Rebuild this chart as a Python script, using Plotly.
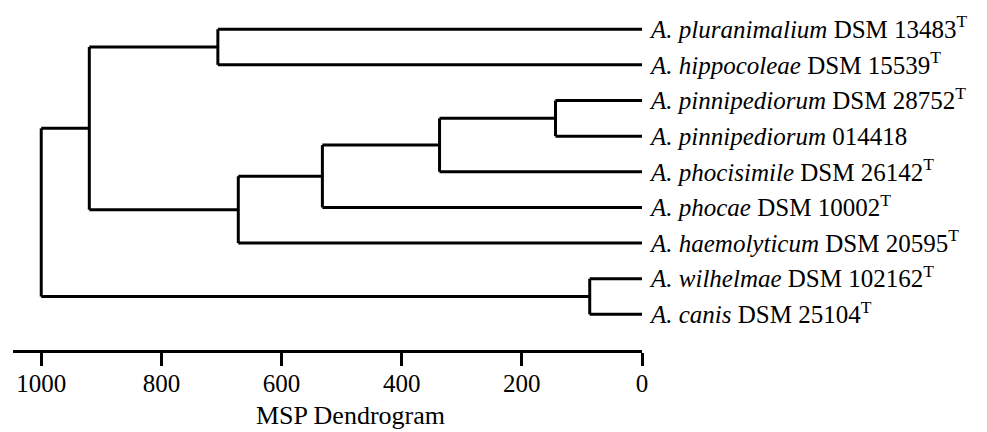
import plotly.graph_objects as go

# ---- data ----
leaf_species = ["A. pluranimalium", "A. hippocoleae", "A. pinnipediorum", "A. pinnipediorum",
                "A. phocisimile", "A. phocae", "A. haemolyticum", "A. wilhelmae", "A. canis"]
leaf_strains = ["DSM 13483", "DSM 15539", "DSM 28752", "014418",
                "DSM 26142", "DSM 10002", "DSM 20595", "DSM 102162", "DSM 25104"]
leaf_type_strain = [True, True, True, False, True, True, True, True, True]

# merges: (child_a, child_b, distance); children "L#" = leaf, "M#" = earlier merge
merge_a = ["L2", "M0", "M1", "M2", "L0", "M4", "L7", "M5"]
merge_b = ["L3", "L4", "L5", "L6", "L1", "M3", "L8", "M6"]
merge_dist = [144, 337, 532, 672, 706, 920, 87, 1000]

axis_ticks = [1000, 800, 600, 400, 200, 0]
axis_title = "MSP Dendrogram"

# ---- build segments ----
pos = {}
for i in range(len(leaf_species)):
    pos["L%d" % i] = (0, i)

xs, ys = [], []
for k, (a, b, d) in enumerate(zip(merge_a, merge_b, merge_dist)):
    xa, ya = pos[a]
    xb, yb = pos[b]
    xs += [xa, d, None, xb, d, None, d, d, None]
    ys += [ya, ya, None, yb, yb, None, ya, yb, None]
    pos["M%d" % k] = (d, (ya + yb) / 2)

labels = []
for sp, st, t in zip(leaf_species, leaf_strains, leaf_type_strain):
    labels.append("<i>%s</i> %s%s" % (sp, st, "<sup>T</sup>" if t else ""))

fig = go.Figure()
fig.add_trace(go.Scatter(x=xs, y=ys, mode="lines",
                         line=dict(color="black", width=3), hoverinfo="skip",
                         showlegend=False))

FAM = "Liberation Serif"
fig.update_layout(
    width=987, height=432,
    margin=dict(l=13.3, r=345.3, t=0, b=82, pad=0),
    paper_bgcolor="white", plot_bgcolor="white",
    font=dict(family=FAM, size=25, color="black"), showlegend=False,
    xaxis=dict(range=[1047, 0], tickvals=axis_ticks, ticktext=[str(v) for v in axis_ticks],
               showline=True, linewidth=3, linecolor="black",
               ticks="outside", ticklen=13, tickwidth=3, tickcolor="black",
               showgrid=False, zeroline=False, ticklabelstandoff=-4,
               tickfont=dict(family=FAM, size=25, color="black")),
    yaxis=dict(range=[9.0, -0.82], side="right", tickvals=list(range(len(labels))),
               ticktext=labels, ticks="", showline=False, showgrid=False,
               zeroline=False, ticklabelstandoff=8,
               tickfont=dict(family=FAM, size=25, color="black")),
    annotations=[dict(text=axis_title, xref="x", yref="paper", x=486, y=0,
                      yshift=-65, xanchor="center", yanchor="middle",
                      showarrow=False, font=dict(family=FAM, size=26, color="black"))],
)
fig.write_html("out.html", config={"displayModeBar": False},
               post_script="document.body.style.margin='0';document.body.style.overflow='hidden';")
